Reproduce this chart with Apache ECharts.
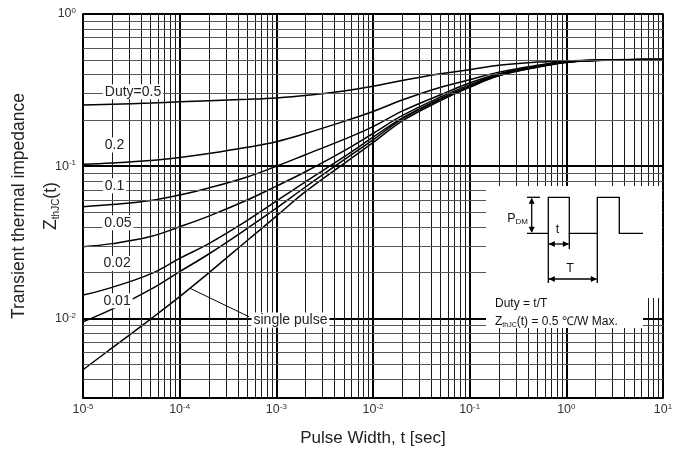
<!DOCTYPE html>
<html>
<head>
<meta charset="utf-8">
<script src="https://cdn.jsdelivr.net/npm/echarts@6/dist/echarts.min.js"></script>
<style>
html,body{margin:0;padding:0;background:#fff;}
#main{width:674px;height:450px;}
</style>
</head>
<body>
<div id="main"></div>
<script>
// pulse width t [sec]
var pulseWidth = [1e-5, 2e-5, 5e-5, 1e-4, 2e-4, 5e-4, 1e-3, 2e-3, 5e-3, 1e-2, 2e-2, 5e-2, 1e-1, 2e-1, 5e-1, 1, 2, 5, 10];
// Zth(jc) [C/W] for each duty
var zDuty05  = [0.252, 0.255, 0.260, 0.265, 0.269, 0.275, 0.281, 0.291, 0.312, 0.335, 0.366, 0.405, 0.430, 0.460, 0.483, 0.492, 0.498, 0.502, 0.503];
var zDuty02  = [0.103, 0.105, 0.109, 0.114, 0.121, 0.133, 0.145, 0.164, 0.197, 0.229, 0.272, 0.330, 0.370, 0.415, 0.460, 0.487, 0.497, 0.502, 0.503];
var zDuty01  = [0.0542, 0.056, 0.0595, 0.0647, 0.072, 0.085, 0.100, 0.119, 0.150, 0.182, 0.230, 0.295, 0.352, 0.405, 0.455, 0.485, 0.496, 0.501, 0.503];
var zDuty005 = [0.0296, 0.031, 0.0345, 0.040, 0.047, 0.060, 0.074, 0.092, 0.126, 0.164, 0.215, 0.285, 0.342, 0.400, 0.452, 0.484, 0.496, 0.501, 0.503];
var zDuty002 = [0.01425, 0.0160, 0.0196, 0.0248, 0.031, 0.044, 0.059, 0.079, 0.115, 0.155, 0.207, 0.278, 0.336, 0.396, 0.450, 0.483, 0.495, 0.501, 0.503];
var zDuty001 = [0.0095, 0.0115, 0.0155, 0.0203, 0.0265, 0.039, 0.053, 0.073, 0.110, 0.149, 0.204, 0.275, 0.333, 0.394, 0.448, 0.482, 0.495, 0.501, 0.503];
var zSingle  = [0.0046, 0.0064, 0.0099, 0.0139, 0.0199, 0.0325, 0.047, 0.068, 0.104, 0.143, 0.198, 0.270, 0.330, 0.392, 0.447, 0.480, 0.495, 0.500, 0.503];
var curveNames = ['Duty=0.5', '0.2', '0.1', '0.05', '0.02', '0.01', 'single pulse'];
var curveData = [zDuty05, zDuty02, zDuty01, zDuty005, zDuty002, zDuty001, zSingle];

// axis ranges
var xMin = 1e-5, xMax = 10;
var yMin = 0.003, yMax = 1;
var xDecades = [-5, -4, -3, -2, -1, 0];
var yDecades = [-3, -2, -1];
var minorSteps = [2, 3, 4, 5, 6, 7, 8, 9];

var FONT = '"Liberation Sans", Arial, sans-serif';

function pow10(v) {
	var e = Math.round(Math.log10(v));
	if (Math.abs(Math.log10(v) - e) > 1e-6) return '';
	return '{b|10}{e|' + e + '}';
}
var tickRich = {
	b: {fontSize: 12.5, lineHeight: 14, color: '#333', fontFamily: FONT},
	e: {fontSize: 8, lineHeight: 9, verticalAlign: 'top', color: '#333', fontFamily: FONT}
};

// minor grid lines (2..9 of each decade), as coord pairs
var vMinor = [], hMinor = [];
xDecades.forEach(function(d) {
	minorSteps.forEach(function(k) {
		var v = k * Math.pow(10, d);
		vMinor.push([{coord: [v, yMin]}, {coord: [v, yMax]}]);
	});
});
yDecades.forEach(function(d) {
	minorSteps.forEach(function(k) {
		var v = k * Math.pow(10, d);
		if (v > yMin * 1.001 && v < yMax) hMinor.push([{coord: [xMin, v]}, {coord: [xMax, v]}]);
	});
});

var series = [];
series.push({
	type: 'line', data: [], z: 1, silent: true,
	markLine: {
		silent: true, symbol: 'none', animation: false,
		label: {show: false},
		lineStyle: {color: '#1a1a1a', width: 1, type: 'solid'},
		data: vMinor
	}
});
series.push({
	type: 'line', data: [], z: 1, silent: true,
	markLine: {
		silent: true, symbol: 'none', animation: false,
		label: {show: false},
		lineStyle: {color: '#555', width: 1, type: 'solid'},
		data: hMinor
	}
});
for (var i = 0; i < curveData.length; i++) {
	series.push({
		name: curveNames[i],
		type: 'line',
		z: 3,
		smooth: 0.4,
		showSymbol: false,
		animation: false,
		lineStyle: {color: '#000', width: 1.5},
		data: pulseWidth.map(function(t, j) { return [t, curveData[i][j]]; })
	});
}
// curve labels + arrow
var lab = {show: true, formatter: '{c}', color: '#222', fontSize: 14, fontFamily: FONT,
	backgroundColor: '#fff', padding: [1, 2, 0, 2]};
series.push({
	type: 'line', data: [], z: 5, silent: true,
	markPoint: {
		symbol: 'circle', symbolSize: 1, animation: false,
		itemStyle: {color: 'rgba(0,0,0,0)'},
		label: lab,
		data: [
			{coord: [3.29e-5, 0.3087], value: 'Duty=0.5'},
			{coord: [2.12e-5, 0.1378], value: '0.2'},
			{coord: [2.12e-5, 0.0744], value: '0.1'},
			{coord: [2.30e-5, 0.0425], value: '0.05'},
			{coord: [2.25e-5, 0.0230], value: '0.02'},
			{coord: [2.25e-5, 0.01306], value: '0.01'},
			{coord: [1.40e-3, 0.00976], value: 'single pulse'}
		]
	},
	markLine: {
		silent: true, animation: false,
		symbol: ['none', 'arrow'], symbolSize: [0, 9],
		label: {show: false},
		lineStyle: {color: '#000', width: 1, type: 'solid'},
		data: [[{coord: [5.21e-4, 0.01026]}, {coord: [1.28e-4, 0.01577]}]]
	}
});

// inset sketch (pulse train)
function arrowHead(x, y, dir) {
	var s = 6, w = 3;
	if (dir === 'up') return [[x, y], [x - w, y + s], [x + w, y + s]];
	if (dir === 'down') return [[x, y], [x - w, y - s], [x + w, y - s]];
	if (dir === 'left') return [[x, y], [x + s, y - w], [x + s, y + w]];
	return [[x, y], [x - s, y - w], [x - s, y + w]];
}
var ink = {stroke: '#000', lineWidth: 1.3, fill: null};
var inset = [
	{type: 'rect', shape: {x: 486, y: 186, width: 176, height: 112}, style: {fill: '#fff'}},
	{type: 'rect', shape: {x: 486, y: 297, width: 157, height: 31}, style: {fill: '#fff'}},
	{type: 'polyline', shape: {points: [[527, 233.3], [548.3, 233.3], [548.3, 197.3], [569.3, 197.3], [569.3, 233.3],
		[597.3, 233.3], [597.3, 197.3], [619.3, 197.3], [619.3, 233.3], [643, 233.3]]}, style: ink},
	{type: 'line', shape: {x1: 527, y1: 197.3, x2: 540, y2: 197.3}, style: ink},
	{type: 'line', shape: {x1: 531.7, y1: 199, x2: 531.7, y2: 232}, style: ink},
	{type: 'polygon', shape: {points: arrowHead(531.7, 197.8, 'up')}, style: {fill: '#000'}},
	{type: 'polygon', shape: {points: arrowHead(531.7, 232.8, 'down')}, style: {fill: '#000'}},
	{type: 'line', shape: {x1: 548.3, y1: 233, x2: 548.3, y2: 283}, style: ink},
	{type: 'line', shape: {x1: 569.3, y1: 233, x2: 569.3, y2: 249}, style: ink},
	{type: 'line', shape: {x1: 597.3, y1: 233, x2: 597.3, y2: 283}, style: ink},
	{type: 'line', shape: {x1: 549, y1: 244, x2: 568.6, y2: 244}, style: ink},
	{type: 'polygon', shape: {points: arrowHead(548.8, 244, 'left')}, style: {fill: '#000'}},
	{type: 'polygon', shape: {points: arrowHead(568.8, 244, 'right')}, style: {fill: '#000'}},
	{type: 'line', shape: {x1: 549, y1: 279, x2: 596.6, y2: 279}, style: ink},
	{type: 'polygon', shape: {points: arrowHead(548.8, 279, 'left')}, style: {fill: '#000'}},
	{type: 'polygon', shape: {points: arrowHead(596.8, 279, 'right')}, style: {fill: '#000'}},
	{type: 'text', x: 528, y: 219, style: {text: '{p|P}{s|DM}', align: 'right', verticalAlign: 'middle',
		rich: {p: {fontSize: 12.5, lineHeight: 14, fontFamily: FONT, fill: '#111'},
			s: {fontSize: 8, lineHeight: 8, verticalAlign: 'bottom', fontFamily: FONT, fill: '#111'}}}},
	{type: 'text', x: 557.5, y: 230, style: {text: 't', align: 'center', verticalAlign: 'middle',
		fontSize: 12.5, fontFamily: FONT, fill: '#111'}},
	{type: 'text', x: 570, y: 269, style: {text: 'T', align: 'center', verticalAlign: 'middle',
		fontSize: 12.5, fontFamily: FONT, fill: '#111'}},
	{type: 'text', x: 495, y: 304, style: {text: 'Duty = t/T', align: 'left', verticalAlign: 'middle',
		fontSize: 12, fontFamily: FONT, fill: '#111'}},
	{type: 'text', x: 495, y: 322, style: {text: '{z|Z}{s|thJC}{z|(t) = 0.5 ℃/W Max.}', align: 'left', verticalAlign: 'middle',
		rich: {z: {fontSize: 12, lineHeight: 14, fontFamily: FONT, fill: '#111'},
			s: {fontSize: 7, lineHeight: 8, verticalAlign: 'bottom', fontFamily: FONT, fill: '#111'}}}}
];
inset.forEach(function(el) { el.z = 100; el.silent = true; });

var chart = echarts.init(document.getElementById('main'));
chart.setOption({
	backgroundColor: '#fff',
	animation: false,
	grid: {left: 83, right: 11, top: 14, bottom: 52, outerBoundsMode: 'none', containLabel: false,
		show: true, borderColor: '#000', borderWidth: 1.5},
	xAxis: {
		type: 'log', logBase: 10, min: xMin, max: xMax,
		name: 'Pulse Width, t [sec]', nameLocation: 'middle', nameGap: 32, nameMoveOverlap: false,
		nameTextStyle: {fontSize: 17, color: '#222', fontFamily: FONT},
		axisLine: {show: true, lineStyle: {color: '#000', width: 1.5}},
		axisTick: {show: false},
		axisLabel: {margin: 5, formatter: pow10, rich: tickRich},
		splitLine: {show: true, lineStyle: {color: '#000', width: 2}}
	},
	yAxis: {
		type: 'log', logBase: 10, min: yMin, max: yMax,
		name: '{t|Transient thermal impedance}\n{z|Z}{s|thJC}{z|(t)}',
		nameLocation: 'middle', nameRotate: 90, nameGap: 22, nameMoveOverlap: false,
		nameTextStyle: {
			color: '#222', fontFamily: FONT,
			rich: {
				t: {fontSize: 17.5, lineHeight: 44, color: '#222', fontFamily: FONT},
				z: {fontSize: 17.5, lineHeight: 20, color: '#222', fontFamily: FONT},
				s: {fontSize: 10, lineHeight: 10, verticalAlign: 'bottom', color: '#222', fontFamily: FONT}
			}
		},
		axisLine: {show: true, lineStyle: {color: '#000', width: 1.5}},
		axisTick: {show: false},
		axisLabel: {margin: 7, formatter: pow10, rich: tickRich},
		splitLine: {show: true, lineStyle: {color: '#000', width: 2}}
	},
	graphic: inset,
	series: series
});
</script>
</body>
</html>
